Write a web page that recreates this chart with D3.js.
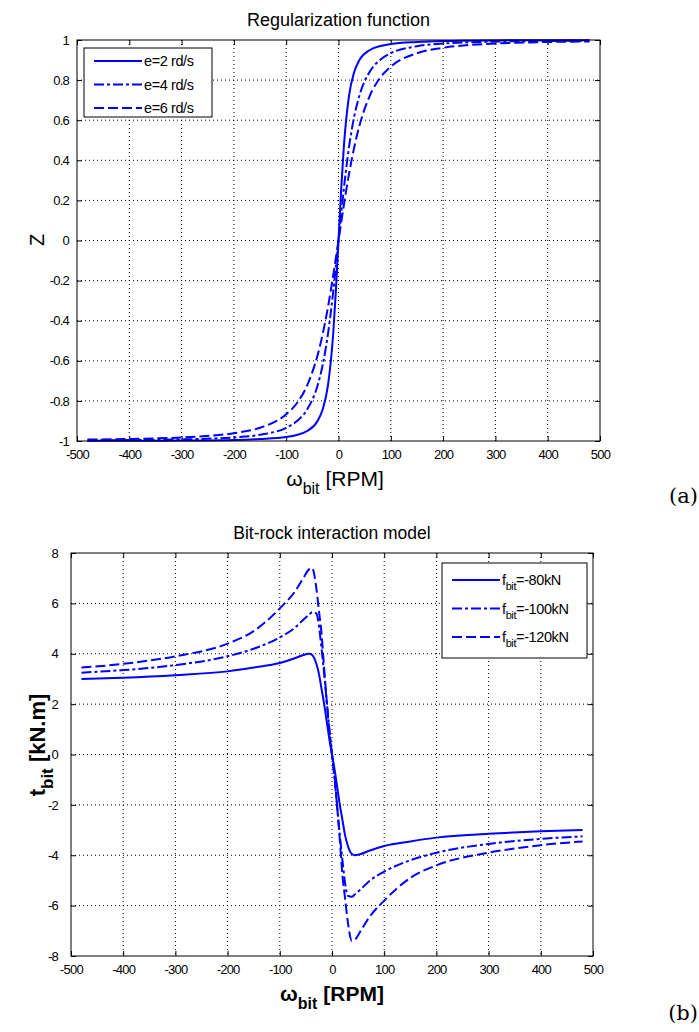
<!DOCTYPE html>
<html>
<head>
<meta charset="utf-8">
<script src="https://cdn.jsdelivr.net/npm/d3@7"></script>
<style>
  body { margin: 0; background: #fff; }
  svg { display: block; }
  text { font-family: "Liberation Sans", Arial, sans-serif; fill: #000; }
</style>
</head>
<body>
<script>
// panel (a): regularization function
var omegaA = [-480,-400,-300,-200,-150,-100,-80,-60,-40,-30,-20,-10,-5,0,5,10,20,30,40,60,80,100,150,200,300,400,480];
var zE2 = [-0.999,-0.999,-0.998,-0.995,-0.99,-0.98,-0.97,-0.95,-0.9,-0.84,-0.72,-0.46,-0.25,0,0.25,0.46,0.72,0.84,0.9,0.95,0.97,0.98,0.99,0.995,0.998,0.999,0.999];
var zE4 = [-0.997,-0.995,-0.992,-0.982,-0.969,-0.934,-0.902,-0.843,-0.723,-0.618,-0.464,-0.253,-0.13,0,0.13,0.253,0.464,0.618,0.723,0.843,0.902,0.934,0.969,0.982,0.992,0.995,0.997];
var zE6 = [-0.993,-0.99,-0.982,-0.961,-0.934,-0.867,-0.813,-0.723,-0.572,-0.464,-0.33,-0.172,-0.087,0,0.087,0.172,0.33,0.464,0.572,0.723,0.813,0.867,0.934,0.961,0.982,0.99,0.993];
var legendA = ["e=2 rd/s", "e=4 rd/s", "e=6 rd/s"];
var yTicksA = [-1,-0.8,-0.6,-0.4,-0.2,0,0.2,0.4,0.6,0.8,1];

// panel (b): bit-rock interaction
var omegaB = [-480,-400,-300,-200,-150,-100,-70,-55,-44,-38,-30,-25,-20,-15,-10,-5,0,5,10,15,20,25,30,38,44,55,70,100,150,200,300,400,480];
var tF80  = [3.0,3.05,3.15,3.3,3.45,3.63,3.83,3.95,4.0,3.95,3.6,3.2,2.6,2.0,1.3,0.6,0,-0.6,-1.3,-2.0,-2.6,-3.2,-3.6,-3.95,-4.0,-3.95,-3.83,-3.63,-3.45,-3.3,-3.15,-3.05,-3.0];
var tF100 = [3.25,3.35,3.55,3.9,4.2,4.65,5.05,5.35,5.55,5.65,5.6,5.1,4.2,3.2,2.1,1.0,0,-1.0,-2.1,-3.2,-4.2,-5.1,-5.6,-5.65,-5.55,-5.35,-5.05,-4.65,-4.2,-3.9,-3.55,-3.35,-3.25];
var tF120 = [3.45,3.6,3.9,4.4,4.9,5.8,6.5,7.0,7.35,7.4,6.6,5.7,4.8,3.4,2.1,0.9,0,-0.9,-2.1,-3.4,-4.8,-5.7,-6.6,-7.4,-7.35,-7.0,-6.5,-5.8,-4.9,-4.4,-3.9,-3.6,-3.45];
var legendB = ["=-80kN", "=-100kN", "=-120kN"];
var yTicksB = [-8,-6,-4,-2,0,2,4,6,8];

var xTicks = [-500,-400,-300,-200,-100,0,100,200,300,400,500];
var dashes = [null, "10,3,3,3", "10,4"];

var svg = d3.select("body").append("svg").attr("width", 699).attr("height", 1032);

function drawPanel(opt) {
  var x = d3.scaleLinear().domain([-500, 500]).range([opt.left, opt.right]);
  var y = d3.scaleLinear().domain(opt.yDomain).range([opt.bottom, opt.top]);
  var g = svg.append("g");

  // dotted grid
  g.selectAll(".gx").data(xTicks.slice(1, -1)).enter().append("line")
    .attr("x1", d => x(d)).attr("x2", d => x(d))
    .attr("y1", opt.top).attr("y2", opt.bottom)
    .attr("stroke", "#000").attr("stroke-width", 1).attr("stroke-dasharray", "1,3");
  g.selectAll(".gy").data(opt.yTicks.slice(1, -1)).enter().append("line")
    .attr("x1", opt.left).attr("x2", opt.right)
    .attr("y1", d => y(d)).attr("y2", d => y(d))
    .attr("stroke", "#000").attr("stroke-width", 1).attr("stroke-dasharray", "1,3");

  // inward ticks on all sides, labels via axes (plain hyphen minus like matlab)
  var fmt = d => String(d);
  var xb = d3.axisBottom(x).tickValues(xTicks).tickSizeInner(-5).tickSizeOuter(0).tickPadding(opt.xPad).tickFormat(fmt);
  var xt = d3.axisTop(x).tickValues(xTicks).tickSizeInner(-5).tickSizeOuter(0).tickFormat("");
  var yl = d3.axisLeft(y).tickValues(opt.yTicks).tickSizeInner(-5).tickSizeOuter(0).tickPadding(opt.yPad).tickFormat(fmt);
  var yr = d3.axisRight(y).tickValues(opt.yTicks).tickSizeInner(-5).tickSizeOuter(0).tickFormat("");
  var axes = [
    g.append("g").attr("transform", "translate(0," + opt.bottom + ")").call(xb),
    g.append("g").attr("transform", "translate(0," + opt.top + ")").call(xt),
    g.append("g").attr("transform", "translate(" + opt.left + ",0)").call(yl),
    g.append("g").attr("transform", "translate(" + opt.right + ",0)").call(yr)
  ];
  axes.forEach(function(a) {
    a.select(".domain").remove();
    a.selectAll("line").attr("stroke", "#000");
    a.selectAll("text").attr("font-size", "13px").attr("font-family", "Liberation Sans, Arial, sans-serif")
      .attr("letter-spacing", "-0.8px");
  });

  // series
  var line = d3.line().x(d => x(d[0])).y(d => y(d[1])).curve(d3.curveMonotoneX);
  opt.series.forEach(function(s, i) {
    g.append("path")
      .datum(opt.xs.map((v, k) => [v, s[k]]))
      .attr("d", line)
      .attr("fill", "none").attr("stroke", "#0000ff").attr("stroke-width", 2)
      .attr("stroke-dasharray", dashes[i]);
  });

  // frame
  g.append("rect").attr("x", opt.left).attr("y", opt.top)
    .attr("width", opt.right - opt.left).attr("height", opt.bottom - opt.top)
    .attr("fill", "none").attr("stroke", "#000").attr("stroke-width", 1);

  // title
  g.append("text").attr("x", (opt.left + opt.right) / 2).attr("y", opt.top - 14)
    .attr("text-anchor", "middle").attr("font-size", opt.titleSize).text(opt.title);

  // legend
  var L = opt.legend;
  g.append("rect").attr("x", L.x).attr("y", L.y).attr("width", L.w).attr("height", L.h)
    .attr("fill", "#fff").attr("stroke", "#000").attr("stroke-width", 1);
  opt.legendText.forEach(function(t, i) {
    var ly = L.y + L.first + i * L.step;
    g.append("line").attr("x1", L.x + 10).attr("x2", L.x + 58).attr("y1", ly).attr("y2", ly)
      .attr("stroke", "#0000ff").attr("stroke-width", 2).attr("stroke-dasharray", dashes[i]);
    var tx = g.append("text").attr("x", L.x + 60).attr("y", ly + 5).attr("font-size", "14.5px")
      .attr("letter-spacing", "-0.4px");
    if (opt.legendSub) {
      tx.append("tspan").text("f");
      tx.append("tspan").attr("dy", 5).attr("font-size", "11px").text("bit");
      tx.append("tspan").attr("dy", -5).text(t);
    } else {
      tx.text(t);
    }
  });
  return g;
}

drawPanel({
  left: 77, right: 600, top: 40, bottom: 441,
  yDomain: [-1, 1], yTicks: yTicksA, xPad: 9, yPad: 8,
  xs: omegaA, series: [zE2, zE4, zE6],
  title: "Regularization function", titleSize: "18px",
  legend: { x: 84, y: 48, w: 128, h: 69, first: 13, step: 23.5 },
  legendText: legendA, legendSub: false
});

drawPanel({
  left: 71, right: 593, top: 553, bottom: 956,
  yDomain: [-8, 8], yTicks: yTicksB, xPad: 9, yPad: 13,
  xs: omegaB, series: [tF80, tF100, tF120],
  title: "Bit-rock interaction model", titleSize: "17.5px",
  legend: { x: 442, y: 563, w: 145, h: 95, first: 17, step: 28.5 },
  legendText: legendB, legendSub: true
});

// axis labels, panel (a)
var xa = svg.append("text").attr("x", 335).attr("y", 486).attr("text-anchor", "middle").attr("font-size", "21px");
xa.append("tspan").text("\u03c9");
xa.append("tspan").attr("dy", 8).attr("font-size", "16px").text("bit");
xa.append("tspan").attr("dy", -8).text(" [RPM]");
svg.append("text").attr("transform", "translate(44,240) rotate(-90)").attr("text-anchor", "middle")
  .attr("font-size", "20px").text("Z");

// axis labels, panel (b)
var xbLab = svg.append("text").attr("x", 332).attr("y", 1001).attr("text-anchor", "middle")
  .attr("font-size", "21px").attr("font-weight", "bold");
xbLab.append("tspan").text("\u03c9");
xbLab.append("tspan").attr("dy", 8).attr("font-size", "16px").text("bit");
xbLab.append("tspan").attr("dy", -8).text(" [RPM]");
var ybLab = svg.append("text").attr("transform", "translate(45,745) rotate(-90)").attr("text-anchor", "middle")
  .attr("font-size", "22px").attr("font-weight", "bold");
ybLab.append("tspan").text("t");
ybLab.append("tspan").attr("dy", 8).attr("font-size", "17px").text("bit");
ybLab.append("tspan").attr("dy", -8).text(" [kN.m]");

// panel tags
svg.append("text").attr("x", 698).attr("y", 503).attr("text-anchor", "end")
  .attr("font-size", "21px").style("font-family", "DejaVu Serif, serif").text("(a)");
svg.append("text").attr("x", 698).attr("y", 1020).attr("text-anchor", "end")
  .attr("font-size", "21px").style("font-family", "DejaVu Serif, serif").text("(b)");
</script>
</body>
</html>
